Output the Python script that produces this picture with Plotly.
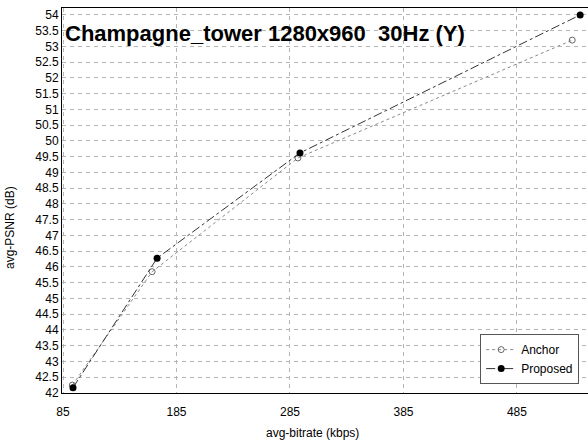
import plotly.graph_objects as go

anchor_bitrate = [93.2, 163.5, 292.0, 533.7]
anchor_psnr = [42.25, 45.85, 49.46, 53.2]
proposed_bitrate = [93.8, 167.9, 293.8, 540.7]
proposed_psnr = [42.17, 46.28, 49.62, 54.0]

x_ticks = [85, 185, 285, 385, 485]
y_ticks = [42 + 0.5 * i for i in range(25)]
y_tick_text = [("%g" % v) for v in y_ticks]

FONT = "Liberation Sans, Arial"

fig = go.Figure()
fig.add_trace(go.Scatter(
    x=anchor_bitrate, y=anchor_psnr, name="Anchor", mode="lines+markers",
    line=dict(color="#8a8a8a", width=1, dash="dot"),
    marker=dict(symbol="circle-open", size=6, color="#666666", line=dict(width=1)),
))
fig.add_trace(go.Scatter(
    x=proposed_bitrate, y=proposed_psnr, name="Proposed", mode="lines+markers",
    line=dict(color="#333333", width=1, dash="dashdot"),
    marker=dict(symbol="circle", size=7, color="black"),
))

fig.add_annotation(
    text="<b>Champagne_tower 1280x960  30Hz (Y)</b>",
    xref="paper", yref="paper", x=0.002, y=0.935, xanchor="left", yanchor="middle",
    showarrow=False, font=dict(family=FONT, size=22, color="black"),
)
# axis titles placed as annotations to match the reference positions
fig.add_annotation(
    text="avg-bitrate (kbps)", xref="paper", yref="paper",
    x=(312 - 62) / 526, y=-(433 - 393) / 385, xanchor="center", yanchor="middle",
    showarrow=False, font=dict(family=FONT, size=12, color="black"),
)
fig.add_annotation(
    text="avg-PSNR (dB)", xref="paper", yref="paper", textangle=-90,
    x=-(62 - 10) / 526, y=(393 - 228) / 385, xanchor="center", yanchor="middle",
    showarrow=False, font=dict(family=FONT, size=12, color="black"),
)

fig.update_layout(
    width=588, height=441,
    margin=dict(l=62, r=0, t=8, b=48),
    paper_bgcolor="white", plot_bgcolor="white",
    font=dict(family=FONT, size=12, color="black"),
    showlegend=True,
    legend=dict(
        x=0.795, y=0.153, xanchor="left", yanchor="top",
        bgcolor="white", bordercolor="#555555", borderwidth=1,
        font=dict(size=12), tracegroupgap=0, itemwidth=30,
    ),
)
fig.update_xaxes(
    range=[84.1, 547.6], tickvals=x_ticks, ticks="", showline=True, mirror=True,
    linecolor="black", linewidth=1, showgrid=True, gridcolor="#b5b5b5",
    griddash="4px,4px", gridwidth=1, zeroline=False, tickfont=dict(size=12),
    ticklabelstandoff=8,
)
fig.update_yaxes(
    range=[42, 54.22], tickvals=y_ticks, ticktext=y_tick_text, ticks="", showline=True,
    mirror=True, linecolor="black", linewidth=1, showgrid=True, gridcolor="#b5b5b5",
    griddash="4px,4px", gridwidth=1, zeroline=False, tickfont=dict(size=12),
)

fig.write_html("out.html")
